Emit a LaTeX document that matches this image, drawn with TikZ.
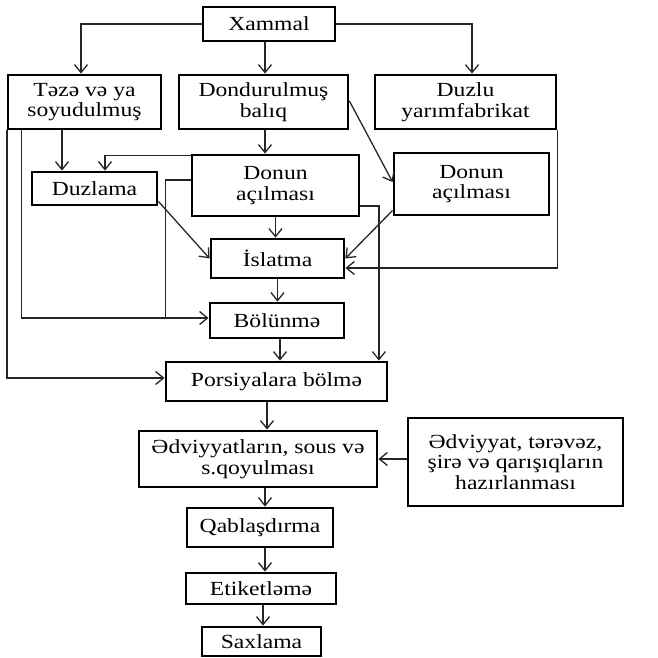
\documentclass[tikz,border=0pt]{standalone}
\usepackage{fontspec}
\setmainfont{Liberation Serif}[FakeStretch=1.18]
\usetikzlibrary{arrows.meta}
\begin{document}
\begin{tikzpicture}[x=1pt,y=-1pt,
  box/.style={draw, line width=2.8pt, align=center, inner sep=0pt,
    font=\fontsize{20}{20.5}\selectfont},
  sz/.style 2 args={minimum width=#1pt, minimum height=#2pt},
  conn/.style={line width=1.3pt, draw=black!85},
  arr/.style={conn, -{Straight Barb[length=8pt,width=13pt,line width=1.3pt]}}
]
\useasboundingbox (0,0) rectangle (657,658);

% process boxes
\node[box, sz={132}{34}]  (xammal)  at (269,24)    {Xammal};
\node[box, sz={153}{54}]  (taze)    at (84.5,102)  {Təzə və ya\\soyudulmuş};
\node[box, sz={169}{54}]  (dond)    at (263.5,102) {Dondurulmuş\\balıq};
\node[box, sz={181}{54}]  (duzlu)   at (465.5,102) {Duzlu\\yarımfabrikat};
\node[box, sz={167}{61}]  (donunc)  at (275.5,185.5) {Donun\\açılması};
\node[box, sz={155}{62}]  (donunr)  at (471.5,184) {Donun\\açılması};
\node[box, sz={125}{33}]  (duzlama) at (94.5,188.5) {Duzlama};
\node[box, sz={133}{39}]  (islatma) at (277.5,258.5) {İslatma};
\node[box, sz={134}{35}]  (bolunme) at (277,320.5) {Bölünmə};
\node[box, sz={221}{39}]  (pors)    at (276.5,381.5) {Porsiyalara bölmə};
\node[box, sz={238}{56}]  (edv)     at (258,459)   {Ədviyyatların, sous və\\s.qoyulması};
\node[box, sz={215}{88}]  (edvr)    at (515.5,462) {Ədviyyat, tərəvəz,\\şirə və qarışıqların\\hazırlanması};
\node[box, sz={146}{39}]  (qabl)    at (260,527.5) {Qablaşdırma};
\node[box, sz={150}{31}]  (etik)    at (261,588.5) {Etiketləmə};
\node[box, sz={119}{29}]  (saxl)    at (261.5,641.5) {Saxlama};

% raw material branches
\draw[arr] (xammal.west) -| ([xshift=-3.5pt]taze.north);
\draw[arr] ([xshift=-4pt]xammal.south) coordinate (a1) -- (a1 |- dond.north);
\draw[arr] (xammal.east) -| ([xshift=6.5pt]duzlu.north);

% fresh / chilled fish
\draw[arr] ([xshift=-22.5pt]taze.south) coordinate (a2) -- (a2 |- duzlama.north);
\coordinate (b1) at ([yshift=2.5pt]bolunme.west);
\draw[arr] ([xshift=15pt]taze.south west) |- (b1);
\draw[arr] ([xshift=0.5pt]taze.south west) |- ([yshift=3.5pt]pors.west);

% frozen fish
\draw[arr] ([xshift=1.5pt]dond.south) coordinate (a3) -- (a3 |- donunc.north);
\draw[arr] ([yshift=1pt]dond.east) -- ([yshift=2pt]donunr.west);

% thawed fish
\draw[arr] ([yshift=-2pt]donunc.north west) -| ([xshift=10.5pt]duzlama.north);
\draw[conn] ([yshift=5.5pt]donunc.west) -| ([xshift=-43pt]b1);
\draw[arr] (donunc.south) -- (donunc.south |- islatma.north);
\draw[arr] ([yshift=-20.5pt]donunc.east) -| ([xshift=-9.5pt]pors.north east);

% salted semi-product
\draw[arr] ([yshift=5pt]duzlama.south east) -- (islatma.west);
\draw[arr] ([yshift=6pt]donunr.south west) -- (islatma.east);
\draw[arr] (duzlu.south east) |- ([yshift=-9.5pt]islatma.east);

% main line
\draw[arr] (islatma.south) -- (islatma.south |- bolunme.north);
\draw[arr] ([xshift=3pt]bolunme.south) coordinate (a4) -- (a4 |- pors.north);
\draw[arr] ([xshift=-9.5pt]pors.south) coordinate (a5) -- (a5 |- edv.north);
\draw[arr] (edvr.west |- edv.east) -- (edv.east);
\draw[arr] ([xshift=7pt]edv.south) coordinate (a6) -- (a6 |- qabl.north);
\draw[arr] ([xshift=5pt]qabl.south) coordinate (a7) -- (a7 |- etik.north);
\draw[arr] ([xshift=2pt]etik.south) coordinate (a8) -- (a8 |- saxl.north);
\end{tikzpicture}
\end{document}
